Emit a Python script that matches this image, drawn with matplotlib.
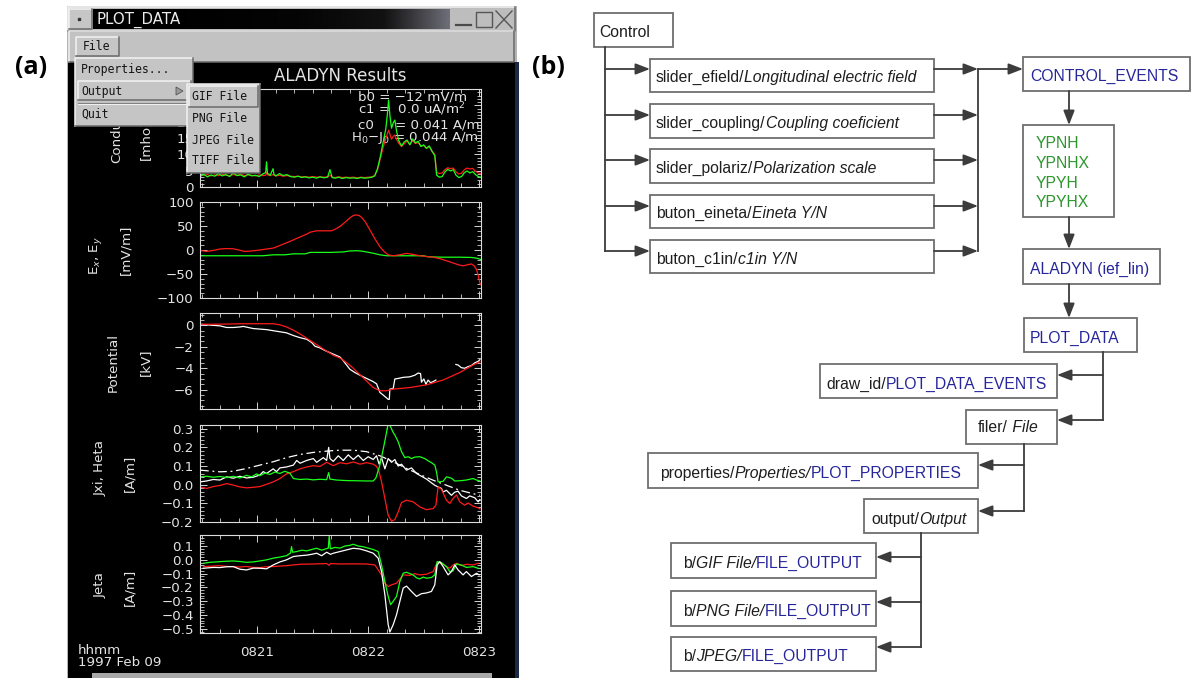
import numpy as np
import matplotlib
matplotlib.use("Agg")
import matplotlib.pyplot as plt
from matplotlib.colors import LinearSegmentedColormap
from matplotlib.patches import Polygon, Rectangle
from matplotlib.transforms import Bbox, TransformedBbox
from matplotlib.ticker import FixedLocator, FuncFormatter, MultipleLocator

W, H = 1193, 678

# time axis: seconds after 08:20:00 UT
time_ticks = [60, 120, 180]
time_labels = ["0821", "0822", "0823"]

# conductance
cond_t = [29, 31, 33, 35, 37, 39, 41, 43, 45, 47,
          49, 51, 53, 55, 57, 59, 61, 63, 64.5, 65,
          65.5, 67, 68.5, 69, 70, 72, 74, 76, 78, 80,
          82, 84, 86, 88, 90, 92, 94, 96, 98, 99.3,
          100.5, 102, 104, 106, 108, 110, 112, 114, 116, 118,
          120, 122, 123.5, 125, 126.5, 128, 129.5, 130.3, 131, 131.8,
          132.6, 133.5, 134.4, 135.3, 136.5, 138, 139.5, 141, 142.5, 144,
          145.5, 147, 148.5, 150, 151.5, 153, 154.5, 156, 157, 158.5,
          160, 161.5, 163, 164.5, 166, 167.5, 169, 170.5, 172, 173.5,
          175, 176.5, 178, 179.5, 181]
cond_green = [3.2, 3.9, 3.1, 3.7, 3.3, 4.1, 3.4, 3.8, 3.2, 4.3,
              3.5, 3.7, 3.1, 3.9, 3.4, 3.6, 3.2, 4.0, 4.4, 7.7,
              4.2, 3.6, 5.6, 3.9, 3.4, 4.1, 3.5, 3.8, 3.2, 3.0,
              3.3, 2.9, 3.1, 2.8, 3.0, 2.7, 3.1, 2.8, 3.0, 5.3,
              2.9, 2.7, 3.0, 2.6, 2.9, 2.7, 2.8, 2.6, 2.9, 2.7,
              2.8, 3.0, 3.4, 5.6, 9.2, 13.5, 17.8, 22.0, 26.6, 21.5,
              18.0, 19.6, 20.5, 17.2, 14.2, 12.6, 13.8, 14.4, 12.9, 14.7,
              13.5, 14.0, 12.4, 12.9, 11.8, 12.6, 10.9, 9.6, 3.6, 3.0,
              3.2, 4.6, 5.4, 4.9, 5.3, 3.6, 2.9, 3.2, 4.4, 4.9,
              4.3, 4.7, 3.8, 3.2, 3.0]
cond_red = [3.5, 3.6, 3.8, 3.4, 3.7, 3.5, 3.9, 3.6, 3.5, 3.8,
            3.6, 3.9, 3.5, 3.7, 3.6, 3.4, 3.7, 3.5, 3.6, 4.5,
            3.7, 3.5, 3.8, 3.6, 3.4, 3.6, 3.3, 3.5, 3.3, 3.2,
            3.3, 3.1, 3.2, 3.0, 3.2, 3.0, 3.1, 3.0, 3.1, 3.6,
            3.0, 2.9, 3.1, 2.9, 3.0, 2.9, 3.0, 2.8, 3.0, 2.9,
            3.0, 3.1, 3.5, 5.2, 8.6, 12.0, 14.8, 16.2, 17.4, 16.0,
            14.6, 15.5, 15.9, 14.6, 13.4, 12.4, 13.2, 14.1, 13.0, 14.2,
            13.3, 13.6, 12.6, 12.7, 12.0, 12.3, 11.1, 10.0, 4.5, 4.1,
            4.3, 5.3, 5.9, 5.6, 5.8, 4.6, 4.0, 4.2, 5.3, 5.8,
            5.5, 5.7, 4.8, 4.3, 4.1]

# electric field
ex_t = [29, 32.6, 36, 39.8, 43, 47, 50, 53.3, 57, 61.4,
        65, 68.6, 72, 75.8, 79.5, 83, 86.7, 88.5, 92.1, 96,
        100.2, 102.5, 104.7, 107.5, 110.1, 112, 113.7, 115, 116.4, 118.5,
        120.9, 123.5, 126.3, 128.5, 130.8, 133.5, 137, 140.7, 144, 147.9,
        151.5, 155, 158.7, 162, 165.9, 169, 171.3, 173.5, 175.8, 177.3,
        178.6, 179.6, 180.4, 181]
ex_red = [-1, -3, -1, 2, 3, 2.5, 0, -3, -2, 0,
          2, 4, 9, 15, 21, 27, 33, 37, 40, 40,
          40, 44, 49, 58, 67, 72, 73, 72, 68, 58,
          42, 24, 7, -3, -10, -12, -10, -7, -9, -12,
          -13.5, -15, -18, -22, -27, -31, -33, -31, -29, -33,
          -41, -55, -69, -72]
ey_t = [29, 50, 63, 68.6, 75, 79.5, 86, 88.5, 100, 106.5,
        110, 113.7, 116, 119, 123, 126.3, 130, 135, 150, 152,
        160, 170, 175.8, 178.6, 180.4, 181]
ey_green = [-12, -12, -12, -10, -10, -8, -8, -5, -5, -4,
            -2, -1.5, -2, -4, -7, -10, -12, -12, -12, -14,
            -15, -15, -15.5, -17, -19, -20]

# potential
pot_red_t = [29, 34.4, 43.4, 52.4, 68.6, 72.2, 75.8, 79.5, 83.1, 86.7,
             90.3, 93.9, 97.5, 101.1, 104.7, 106.5, 109.2, 111.9, 114.6, 117.3,
             120.0, 122.7, 126.3, 129.9, 133.5, 142.5, 151.5, 160.5, 169.5, 176.7,
             180.4]
pot_red = [0.1, 0.1, 0.12, 0.15, 0.15, 0.05, -0.15, -0.45, -0.8, -1.2,
           -1.6, -2.0, -2.4, -2.8, -3.05, -3.25, -3.6, -4.0, -4.45, -4.9,
           -5.35, -5.8, -6.1, -6.1, -5.95, -5.8, -5.55, -5.1, -4.4, -3.7,
           -3.4]
pot_white_t = [29, 32.6, 36.2, 39.8, 43.4, 47.0, 50.6, 52.4, 55.1, 57.8,
               61.4, 65.0, 68.6, 72.2, 75.8, 79.5, 83.1, 86.7, 89.4, 91.2,
               93.9, 96.6, 99.3, 102.0, 104.7, 106.5, 108.3, 110.1, 112.8, 115.5,
               119.1, 122.7, 124.5, 126.3, 128.1, 130.8, 131.4, 131.7, 133.5, 134.4,
               136.2, 138.9, 142.5, 145.2, 147.0, 148.3, 148.8, 150.1, 151.2, 152.4,
               153.7, 155.1, 156.6, 158.0, 167.4, 168.6, 170.4, 172.2, 174.0, 175.8,
               177.6, 179.5, 180.4]
pot_white = [0.1, 0.05, 0.0, -0.05, -0.2, -0.2, -0.15, -0.1, -0.2, -0.3,
             -0.35, -0.4, -0.5, -0.6, -0.7, -0.95, -1.15, -1.3, -1.6, -1.95,
             -2.1, -2.35, -2.55, -2.75, -2.95, -3.3, -3.7, -4.1, -4.4, -4.65,
             -4.95, -5.25, -5.45, -6.25, -6.5, -6.9, -6.9, -5.95, -5.9, -5.0,
             -4.95, -4.85, -4.8, -4.65, -4.45, -4.5, -5.3, -5.0, -5.5, -5.1,
             -5.35, -5.25, -5.1, np.nan, -3.65, -3.7, -3.95, -4.0, -3.85, -3.75,
             -3.5, -3.35, -3.2]

# Jxi / Heta
jxi_green_t = [29, 32.6, 36.2, 39.8, 43.4, 47.0, 50.6, 54.2, 56.9, 59.6,
               61.4, 64.1, 66.8, 69.5, 72.2, 74.9, 77.6, 79.5, 83.1, 86.7,
               90.3, 93.9, 97.5, 98.6, 99.3, 102.9, 108.3, 113.7, 119.1, 122.7,
               124.1, 126.3, 128.1, 129.5, 130.8, 132.1, 133.5, 134.4, 136.2, 138.0,
               139.8, 141.6, 143.4, 145.2, 147.9, 150.6, 152.4, 154.2, 156.0, 156.9,
               157.8, 160.5, 162.3, 165.0, 166.8, 169.5, 173.1, 176.7, 178.6, 180.4]
jxi_green = [0.042, 0.045, 0.04, 0.044, 0.038, 0.045, 0.036, 0.05, 0.042, 0.058,
             0.048, 0.062, 0.055, 0.068, 0.06, 0.072, 0.062, 0.033, 0.028, 0.03,
             0.026, 0.029, 0.027, 0.065, 0.03, 0.025, 0.022, 0.021, 0.02, 0.02,
             0.035, 0.105, 0.19, 0.26, 0.33, 0.31, 0.28, 0.266, 0.23, 0.177,
             0.145, 0.15, 0.14, 0.148, 0.15, 0.14, 0.128, 0.118, 0.105, 0.07,
             0.015, 0.018, 0.042, 0.035, 0.02, 0.021, 0.025, 0.033, 0.025, 0.02]
jxi_red_t = [29, 32.6, 36.2, 39.8, 43.4, 47.0, 50.6, 54.2, 57.8, 61.4,
             65.0, 68.6, 72.2, 75.8, 79.5, 83.1, 86.7, 90.3, 93.9, 97.5,
             101.1, 104.7, 108.3, 111.9, 115.5, 119.1, 122.7, 124.5, 125.8, 127.2,
             129.0, 130.8, 132.6, 134.4, 136.2, 138.0, 140.7, 144.3, 147.9, 151.5,
             155.1, 156.6, 157.8, 159.6, 162.3, 164.1, 165.9, 167.7, 169.5, 172.2,
             174.0, 176.7, 179.5, 180.4]
jxi_red = [-0.012, -0.02, -0.01, -0.004, 0.006, -0.002, -0.012, -0.017, -0.014, -0.01,
           0.002, 0.015, 0.033, 0.058, 0.07, 0.085, 0.095, 0.102, 0.098, 0.12,
           0.102, 0.118, 0.112, 0.122, 0.11, 0.118, 0.11, 0.098, 0.072, 0.015,
           -0.074, -0.164, -0.196, -0.187, -0.146, -0.096, -0.083, -0.092, -0.119, -0.134,
           -0.128, -0.11, -0.012, -0.025, -0.083, -0.101, -0.074, -0.055, -0.092, -0.11,
           -0.098, -0.115, -0.124, -0.13]
jxi_white_t = [29, 32.6, 36.2, 39.8, 43.4, 47.0, 50.6, 54.2, 57.8, 61.4,
               63.2, 65.0, 68.6, 70.4, 72.2, 75.8, 79.5, 81.3, 83.1, 86.7,
               90.3, 92.1, 95.7, 97.5, 98.6, 99.3, 101.1, 103.8, 106.5, 109.2,
               111.9, 114.6, 117.3, 120.0, 122.7, 124.5, 125.9, 127.2, 129.0, 130.8,
               132.6, 134.4, 136.2, 138.0, 140.7, 143.4, 146.1, 148.8, 151.5, 154.2,
               156.0, 157.8, 159.6, 160.5, 162.3, 165.0, 166.8, 168.6, 170.4, 173.1,
               174.9, 177.6, 179.5, 180.4]
jxi_white = [0.015, 0.02, 0.028, 0.025, 0.042, 0.035, 0.045, 0.036, 0.04, 0.052,
             0.07, 0.06, 0.085, 0.07, 0.09, 0.095, 0.105, 0.13, 0.115, 0.13,
             0.14, 0.12, 0.145, 0.13, 0.2, 0.14, 0.125, 0.155, 0.13, 0.16,
             0.135, 0.158, 0.13, 0.15, 0.135, 0.155, 0.11, 0.145, 0.085, 0.14,
             0.12, 0.135, 0.1, 0.11, 0.078, 0.09, 0.06, 0.045, 0.03, 0.01,
             -0.003, -0.012, -0.02, -0.039, -0.03, -0.057, -0.04, -0.035, -0.06, -0.074,
             -0.06, -0.07, -0.092, -0.08]
heta_t = [29, 39.8, 47.0, 54.2, 61.4, 68.6, 75.8, 83.1, 90.3, 97.5,
          104.7, 111.9, 119.1, 126.3, 133.5, 140.7, 147.9, 155.1, 162.3, 169.5,
          176.7, 180.4]
heta = [0.078, 0.069, 0.072, 0.087, 0.105, 0.123, 0.145, 0.162, 0.173, 0.18,
        0.185, 0.185, 0.177, 0.155, 0.123, 0.087, 0.055, 0.024, -0.003, -0.03,
        -0.048, -0.057]

# Jeta
jeta_green_t = [30.8, 34.4, 39.8, 43.4, 47.0, 50.6, 54.2, 57.8, 61.4, 65.0,
                68.6, 72.2, 75.8, 78.0, 78.5, 79.1, 81.3, 84.0, 86.7, 89.4,
                92.1, 94.8, 96.6, 98.4, 98.9, 99.5, 102.0, 104.7, 107.4, 110.1,
                111.9, 114.6, 117.3, 120.0, 122.7, 125.4, 127.2, 129.0, 130.8, 132.1,
                133.5, 135.3, 137.1, 138.9, 140.7, 142.5, 144.3, 146.1, 147.9, 149.7,
                151.5, 154.2, 156.0, 157.3, 159.6, 162.3, 164.1, 165.9, 167.7, 170.4,
                173.1, 176.7, 179.5]
jeta_green = [-0.025, -0.018, -0.013, -0.01, -0.008, -0.012, -0.018, -0.015, -0.008, 0.0,
              0.012, 0.02, 0.03, 0.05, 0.096, 0.055, 0.06, 0.07, 0.065, 0.075,
              0.084, 0.07, 0.078, 0.085, 0.175, 0.08, 0.09, 0.085, 0.1, 0.105,
              0.113, 0.1, 0.095, 0.085, 0.075, 0.06, -0.037, -0.157, -0.265, -0.325,
              -0.3, -0.265, -0.157, -0.097, -0.09, -0.1, -0.109, -0.13, -0.138, -0.125,
              -0.133, -0.128, -0.109, -0.013, -0.02, -0.049, -0.085, -0.08, -0.03, -0.037,
              -0.055, -0.049, -0.061]
jeta_red_t = [30.8, 36.2, 39.8, 43.4, 47.0, 50.6, 54.2, 57.8, 61.4, 65.0,
              68.6, 72.2, 75.8, 79.5, 83.1, 90.3, 97.5, 98.9, 99.6, 104.7,
              111.9, 119.1, 123.6, 125.4, 127.2, 129.0, 130.8, 132.6, 135.3, 137.1,
              138.9, 142.5, 145.2, 147.9, 151.5, 155.1, 157.3, 159.6, 162.3, 164.1,
              165.9, 167.7, 170.4, 173.1, 176.7, 179.5]
jeta_red = [-0.049, -0.045, -0.042, -0.048, -0.049, -0.052, -0.048, -0.055, -0.056, -0.05,
            -0.049, -0.045, -0.042, -0.037, -0.032, -0.03, -0.027, -0.04, -0.027, -0.03,
            -0.029, -0.03, -0.037, -0.073, -0.109, -0.169, -0.193, -0.181, -0.169, -0.14,
            -0.109, -0.113, -0.1, -0.109, -0.104, -0.085, -0.018, -0.025, -0.049, -0.061,
            -0.037, -0.025, -0.042, -0.032, -0.037, -0.025]
jeta_white_t = [30.8, 36.2, 39.8, 43.4, 47.0, 50.6, 54.2, 57.8, 61.4, 65.0,
                68.6, 72.2, 75.8, 79.5, 83.1, 86.7, 89.4, 92.1, 94.8, 97.5,
                99.6, 101.1, 104.7, 108.3, 111.9, 115.5, 119.1, 122.7, 125.4, 127.2,
                129.0, 130.8, 131.7, 133.5, 135.3, 137.1, 138.9, 140.7, 143.4, 146.1,
                148.8, 151.5, 154.2, 156.0, 157.3, 158.7, 160.5, 163.2, 165.0, 166.8,
                168.6, 171.3, 173.1, 175.8, 178.6, 180.0]
jeta_white = [-0.061, -0.055, -0.056, -0.05, -0.049, -0.068, -0.073, -0.06, -0.061, -0.065,
              -0.037, -0.015, 0.0, 0.024, 0.03, 0.034, 0.04, 0.048, 0.03, 0.055,
              0.04, 0.048, 0.06, 0.072, 0.084, 0.079, 0.065, 0.048, 0.012, -0.085,
              -0.253, -0.47, -0.523, -0.47, -0.398, -0.301, -0.205, -0.19, -0.229, -0.265,
              -0.245, -0.24, -0.229, -0.181, -0.037, -0.013, -0.049, -0.109, -0.085, -0.037,
              -0.073, -0.109, -0.085, -0.121, -0.097, -0.109]

cond_ticks = [0, 5, 10, 15, 20, 25, 30]
efield_ticks = [-100, -50, 0, 50, 100]
pot_ticks = [-6, -4, -2, 0]
jxi_ticks = [-0.2, -0.1, 0.0, 0.1, 0.2, 0.3]
jeta_ticks = [-0.5, -0.4, -0.3, -0.2, -0.1, 0.0, 0.1]

file_menu = ["Properties...", "Output", "Quit"]
output_menu = ["GIF File", "PNG File", "JPEG File", "TIFF File"]

control_widgets = [("slider_efield/", "Longitudinal electric field"),
                   ("slider_coupling/", "Coupling coeficient"),
                   ("slider_polariz/", "Polarization scale"),
                   ("buton_eineta/", "Eineta Y/N"),
                   ("buton_c1in/", "c1in Y/N")]
event_vars = ["YPNH", "YPNHX", "YPYH", "YPYHX"]
file_buttons = [("GIF File/", "FILE_OUTPUT"), ("PNG File/", "FILE_OUTPUT"), ("JPEG/", "FILE_OUTPUT")]

RED, GREEN, WHITE = "#ff1a1a", "#19ff19", "#ffffff"
FG = "#e4e4e4"
MENU = "#c5c5c5"
IDL_FS = 9.6

fig = plt.figure(figsize=(W / 100, H / 100), dpi=100)
fig.patch.set_facecolor("white")


def overlay(z):
    ax = fig.add_axes([0, 0, 1, 1], zorder=z)
    ax.set_xlim(0, W)
    ax.set_ylim(H, 0)
    ax.axis("off")
    return ax


def px_axes(x0, y0, x1, y1, z=1):
    return fig.add_axes([x0 / W, 1 - y1 / H, (x1 - x0) / W, (y1 - y0) / H], zorder=z)


def bevel(ax, x0, y0, x1, y1, face, z=3, light="#f2f2f2", dark="#6a6a6a"):
    ax.add_patch(Rectangle((x0, y0), x1 - x0, y1 - y0, facecolor=face, edgecolor="none", zorder=z))
    ax.plot([x0, x0, x1], [y1, y0, y0], color=light, lw=1.1, zorder=z + 0.1)
    ax.plot([x0, x1, x1], [y1, y1, y0], color=dark, lw=1.1, zorder=z + 0.1)


bg = overlay(0)
top = overlay(5)

# ---------------- IDL window ----------------
bg.add_patch(Rectangle((67, 6), 450, 672, facecolor="#b4b4b4", edgecolor="none", zorder=1))
bevel(bg, 68, 7, 515, 31, "#bdbdbd", z=2)
bevel(bg, 69, 9, 92, 29, "#c6c6c6", z=2.5)
bg.plot([79], [19], "s", ms=1.6, color="#333333", zorder=3)
title_cmap = LinearSegmentedColormap.from_list("title", ["#000000", "#050505", "#121212", "#6e6e78"])
bg.imshow(np.linspace(0, 1, 256)[None, :] ** 2, extent=(93, 450, 29, 9), cmap=title_cmap,
          aspect="auto", zorder=2.6)
bg.text(96, 19.5, "PLOT_DATA", color="#ececec", fontsize=10.8, va="center", zorder=3)
bg.plot([456, 471], [25, 25], color="#4a4a4a", lw=1.6, zorder=3)
bg.add_patch(Rectangle((476, 12), 16, 15, fill=False, edgecolor="#555555", lw=1.0, zorder=3))
bg.plot([496, 512], [11, 28], color="#555555", lw=1.0, zorder=3)
bg.plot([496, 512], [28, 11], color="#555555", lw=1.0, zorder=3)

bevel(bg, 69, 31, 514, 62, "#c2c2c2", z=2)
bevel(bg, 76, 37, 119, 56, "#c6c6c6", z=2.5)
mono = dict(family="DejaVu Sans Mono", fontsize=8.3, color="#141414", va="center")
bg.text(83, 47, "File", zorder=3, **mono)

bg.add_patch(Rectangle((68, 62), 447, 616, facecolor="black", edgecolor="none", zorder=2))
bg.add_patch(Rectangle((515, 62), 4, 616, facecolor="#1c2a48", edgecolor="none", zorder=2))
bg.add_patch(Rectangle((92, 673), 400, 5, facecolor="#a9a9a9", edgecolor="none", zorder=2.5))

# plot annotations inside the window
lab = dict(color=FG, fontsize=IDL_FS, family="DejaVu Sans", zorder=3)
bg.text(340, 76, "ALADYN Results", color=FG, fontsize=12, ha="center", va="center", zorder=3)
bg.text(358, 96.5, "b0 = \u221212 mV/m", va="center", **lab)
bg.text(358, 109.5, "c1 =  0.0 uA/m$^2$", va="center", **lab)
bg.text(358, 125, "c0     = 0.041 A/m", va="center", **lab)
bg.text(351, 138.5, "H$_0$\u2212J$_0$ = 0.044 A/m", va="center", **lab)

# the first panel's title runs up under the pulled-down menu
below_menu = TransformedBbox(Bbox([[60, 127], [200, 200]]), bg.transData)
ylabel_spots = [("Conductance", 117, 119), ("[mho]", 145, 140),
                ("E$_x$, E$_y$", 95, 255), ("[mV/m]", 126, 250),
                ("Potential", 113, 363), ("[kV]", 145, 362),
                ("Jxi, Heta", 100, 468), ("[A/m]", 130, 473),
                ("Jeta", 100, 585), ("[A/m]", 130, 587)]
for i, (s, x, y) in enumerate(ylabel_spots):
    t = bg.text(x, y, s, rotation=90, ha="center", va="center", **lab)
    if i < 2:
        t.set_clip_box(below_menu)
bg.text(78, 651, "hhmm", va="center", **lab)
bg.text(78, 662, "1997 Feb 09", va="center", **lab)


def idl_axes(box, ylim, yticks, yminor, fmt, bottom=False):
    ax = px_axes(*box, z=1)
    ax.set_facecolor("none")
    ax.set_xlim(29, 181)
    ax.set_ylim(*ylim)
    for sp in ax.spines.values():
        sp.set_color("#dcdcdc")
        sp.set_linewidth(0.8)
    ax.xaxis.set_major_locator(FixedLocator(time_ticks))
    ax.xaxis.set_minor_locator(MultipleLocator(10))
    ax.set_xticklabels(time_labels)
    ax.yaxis.set_major_locator(FixedLocator(yticks))
    ax.yaxis.set_minor_locator(MultipleLocator(yminor))
    ax.yaxis.set_major_formatter(FuncFormatter(lambda v, p: (fmt % v).replace("-", "\u2212")))
    ax.tick_params(which="both", direction="in", top=True, right=True, color="#d4d4d4",
                   labelcolor=FG, labelsize=IDL_FS, labelbottom=bottom)
    ax.tick_params(which="major", length=5, width=0.7)
    ax.tick_params(which="minor", length=3, width=0.6)
    ax.tick_params(axis="y", pad=4.5)
    ax.tick_params(axis="x", pad=9)
    return ax


ax1 = idl_axes((200, 89, 481, 187), (0, 30), cond_ticks, 1, "%d")
ax1.plot(cond_t, cond_red, color=RED, lw=0.9)
ax1.plot(cond_t, cond_green, color=GREEN, lw=0.9)

ax2 = idl_axes((200, 202, 481, 298), (-100, 100), efield_ticks, 10, "%d")
ax2.plot(ey_t, ey_green, color=GREEN, lw=0.9)
ax2.plot(ex_t, ex_red, color=RED, lw=0.9)

ax3 = idl_axes((200, 313, 481, 409), (-7.8, 1.15), pot_ticks, 0.5, "%d")
ax3.plot(pot_white_t, pot_white, color=WHITE, lw=0.9)
ax3.plot(pot_red_t, pot_red, color=RED, lw=0.9)

ax4 = idl_axes((200, 425, 481, 522), (-0.2, 0.32), jxi_ticks, 0.02, "%.1f")
ax4.plot(heta_t, heta, color=WHITE, lw=0.9, dashes=[7, 3, 1.5, 3])
ax4.plot(jxi_white_t, jxi_white, color=WHITE, lw=0.9)
ax4.plot(jxi_red_t, jxi_red, color=RED, lw=0.9)
ax4.plot(jxi_green_t, jxi_green, color=GREEN, lw=0.9)

ax5 = idl_axes((200, 535, 481, 633), (-0.53, 0.18), jeta_ticks, 0.02, "%.1f", bottom=True)
ax5.plot(jeta_red_t, jeta_red, color=RED, lw=0.9)
ax5.plot(jeta_green_t, jeta_green, color=GREEN, lw=0.9)
ax5.plot(jeta_white_t, jeta_white, color=WHITE, lw=0.9)

# pulled-down File menu and Output cascade
bevel(top, 75, 58, 193, 126, MENU)
bevel(top, 78, 81, 191, 100, MENU, z=3.5)
for s, y in zip(file_menu, [70, 91, 114]):
    top.text(81, y, s, zorder=4, **mono)
top.add_patch(Polygon([(176, 87), (176, 95), (183, 91)], closed=True, facecolor="#9a9a9a",
                      edgecolor="#555555", lw=0.6, zorder=4))
top.plot([78, 191], [103, 103], color="#7a7a7a", lw=0.8, zorder=4)
top.plot([78, 191], [104, 104], color="#efefef", lw=0.8, zorder=4)
bevel(top, 187, 84, 260, 173, MENU, z=5)
bevel(top, 189, 86, 258, 107, MENU, z=5.5)
for s, y in zip(output_menu, [97, 118, 140, 161]):
    top.text(192, y, s, zorder=6, **mono)

# panel tags
tag = dict(fontsize=18, fontweight="bold", family="Open Sans", ha="center", va="center", color="black")
bg.text(31, 68, "(a)", **tag)
bg.text(548, 68, "(b)", **tag)

# ---------------- widget / event flow chart ----------------
FC_FONT = "Liberation Sans"
FS = 11.3
BLACK_T, BLUE_T, GREEN_T = "#1e1e1e", "#26269a", "#2c962c"
EDGE, LINE = "#6e6e6e", "#3c3c3c"
renderer = fig.canvas.get_renderer()


def fbox(x0, y0, x1, y1):
    bg.add_patch(Rectangle((x0, y0), x1 - x0, y1 - y0, facecolor="white", edgecolor=EDGE,
                           linewidth=1.3, zorder=3))


def fline(xs, ys):
    bg.plot(xs, ys, color=LINE, lw=1.3, zorder=3)


def farrow(x0, y0, x1, y1):
    bg.annotate("", xy=(x1, y1), xytext=(x0, y0), zorder=4,
                arrowprops=dict(arrowstyle="-|>,head_length=0.62,head_width=0.24", color=LINE,
                                lw=1.3, shrinkA=0, shrinkB=0, mutation_scale=14))


def rich(x, yc, parts):
    yb = yc + 5.6
    for s, style, color in parts:
        t = bg.text(x, yb, s, fontsize=FS, family=FC_FONT, style=style, color=color,
                    ha="left", va="baseline", zorder=5)
        x += t.get_window_extent(renderer).width


fbox(594, 13, 673, 47)
rich(599, 31, [("Control", "normal", BLACK_T)])
fline([605, 605], [47, 251])
row_arrows = [69, 115, 160, 206, 251]
row_boxes = [(59, 92), (104, 138), (149, 183), (195, 228), (240, 273)]
row_text = [76, 122, 167, 212, 258]
for (name, desc), ay, (y0, y1), ty in zip(control_widgets, row_arrows, row_boxes, row_text):
    farrow(605, ay, 650, ay)
    fbox(650, y0, 934, y1)
    rich(656, ty, [(name, "normal", BLACK_T), (desc, "italic", BLACK_T)])
    farrow(934, ay, 978, ay)
fline([978, 978], [69, 251])
farrow(978, 69, 1023, 69)
fbox(1023, 57, 1190, 91)
rich(1030, 75, [("CONTROL_EVENTS", "normal", BLUE_T)])
farrow(1069, 91, 1069, 125)
fbox(1023, 125, 1114, 217)
for s, y in zip(event_vars, [142, 162, 182, 201]):
    rich(1036, y, [(s, "normal", GREEN_T)])
farrow(1069, 217, 1069, 249)
fbox(1023, 249, 1160, 284)
rich(1030, 268, [("ALADYN (ief_lin)", "normal", BLUE_T)])
farrow(1069, 284, 1069, 318)
fbox(1024, 318, 1137, 352)
rich(1030, 337, [("PLOT_DATA", "normal", BLUE_T)])
fline([1103, 1103], [352, 420])
farrow(1103, 375, 1057, 375)
farrow(1103, 420, 1057, 420)
fbox(820, 364, 1057, 398)
rich(826, 383, [("draw_id/", "normal", BLACK_T), ("PLOT_DATA_EVENTS", "normal", BLUE_T)])
fbox(966, 410, 1057, 444)
rich(978, 426, [("filer/", "normal", BLACK_T), (" File", "italic", BLACK_T)])
fline([1024, 1024], [444, 511])
farrow(1024, 465, 978, 465)
farrow(1024, 511, 978, 511)
fbox(648, 453, 978, 488)
rich(660, 472, [("properties/", "normal", BLACK_T), ("Properties/", "italic", BLACK_T),
                ("PLOT_PROPERTIES", "normal", BLUE_T)])
fbox(864, 499, 978, 533)
rich(871, 518, [("output/", "normal", BLACK_T), ("Output", "italic", BLACK_T)])
fline([921, 921], [533, 647])
for (desc, target), ay, (y0, y1), ty in zip(file_buttons, [557, 602, 647],
                                            [(543, 578), (591, 626), (637, 671)], [562, 610, 655]):
    farrow(921, ay, 876, ay)
    fbox(671, y0, 876, y1)
    rich(683, ty, [("b/", "normal", BLACK_T), (desc, "italic", BLACK_T), (target, "normal", BLUE_T)])

fig.savefig("out.png", dpi=100, facecolor="white")
